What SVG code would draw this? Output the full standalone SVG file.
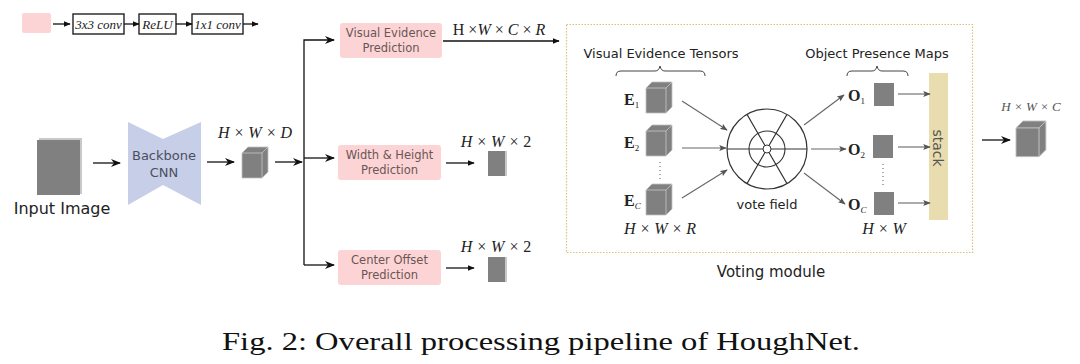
<svg xmlns="http://www.w3.org/2000/svg" width="1080" height="364" viewBox="0 0 1080 364">
<style>
.sans{font-family:"DejaVu Sans","Liberation Sans",sans-serif}
.math{font-family:"Liberation Serif","DejaVu Serif",serif;font-style:italic;fill:#222}
.bold{font-family:"Liberation Serif","DejaVu Serif",serif;font-weight:bold;fill:#222}
.pink{fill:#fdd4d5}
.ptxt{font-family:"DejaVu Sans","Liberation Sans",sans-serif;font-size:11.5px;fill:#6a5656;text-anchor:middle}
.blk{stroke:#111;stroke-width:1.3;fill:none}
.gry{stroke:#666;stroke-width:1.1;fill:none}
.lbox{fill:#fff;stroke:#222;stroke-width:1.4}
</style>
<defs>
<marker id="ah" viewBox="0 0 10 8" refX="9" refY="4" markerWidth="10" markerHeight="8" markerUnits="userSpaceOnUse" orient="auto"><path d="M0,0 L10,4 L0,8 L3,4 z" fill="#111"/></marker>
<marker id="ahs" viewBox="0 0 10 8" refX="9" refY="4" markerWidth="7" markerHeight="5.5" markerUnits="userSpaceOnUse" orient="auto"><path d="M0,0 L10,4 L0,8 z" fill="#111"/></marker>
<marker id="ahg" viewBox="0 0 10 8" refX="9" refY="4" markerWidth="8" markerHeight="6" markerUnits="userSpaceOnUse" orient="auto"><path d="M0,0 L10,4 L0,8 L2,4 z" fill="#555"/></marker>
<g id="cube"><path d="M0,6 L6,0 L26,0 L26,25 L20,31 L0,31 z" fill="#808080" stroke="#c0c0c0" stroke-width="0.8"/><path d="M0,6 L20,6 L20,31 M20,6 L26,0" fill="none" stroke="#c8c8c8" stroke-width="0.8"/></g>
</defs>
<rect width="1080" height="364" fill="#fff"/>

<g id="legend">
<rect x="22" y="13" width="29" height="20" rx="2" class="pink"/>
<rect x="73" y="14" width="51" height="20" class="lbox"/>
<text x="98.5" y="28.5" class="math" font-size="13" text-anchor="middle">3x3 conv</text>
<rect x="139" y="14" width="37" height="20" class="lbox"/>
<text x="157.5" y="28.5" class="math" font-size="13" text-anchor="middle">ReLU</text>
<rect x="192" y="14" width="51" height="20" class="lbox"/>
<text x="217.5" y="28.5" class="math" font-size="13" text-anchor="middle">1x1 conv</text>
</g>

<g id="input">
<rect x="39" y="138" width="43" height="56" fill="#c8c8c8"/>
<rect x="37" y="140" width="43" height="55" fill="#808080"/>
<text x="62" y="214" class="sans" font-size="16" text-anchor="middle" fill="#222">Input Image</text>
</g>

<g id="backbone">
<path d="M128,122 L163,139 L201,122 L201,205 L163,185 L128,205 z" fill="#c7cfe8"/>
<text x="164" y="160" class="sans" font-size="13" text-anchor="middle" fill="#4a4e60">Backbone</text>
<text x="164" y="177" class="sans" font-size="13" text-anchor="middle" fill="#4a4e60">CNN</text>
</g>

<g id="feature">
<use href="#cube" x="242" y="147"/>
<text x="255" y="138" class="math" font-size="16" text-anchor="middle">H × W × D</text>
</g>

<g id="vep">
<rect x="340" y="23" width="102" height="35" rx="3" class="pink"/>
<text x="391" y="37" class="ptxt">Visual Evidence</text>
<text x="391" y="52" class="ptxt">Prediction</text>
<text x="499" y="35" font-family="Liberation Serif,serif" font-size="16" text-anchor="middle" fill="#222">H <tspan font-style="normal">×</tspan><tspan font-style="italic">W</tspan> × <tspan font-style="italic">C</tspan> × <tspan font-style="italic">R</tspan></text>
</g>

<g id="whp">
<rect x="338" y="145" width="103" height="35" rx="3" class="pink"/>
<text x="389.5" y="159" class="ptxt">Width &amp; Height</text>
<text x="389.5" y="174" class="ptxt">Prediction</text>
<text x="496" y="147" class="math" font-size="16" text-anchor="middle">H × W × <tspan font-style="normal">2</tspan></text>
<rect x="489" y="151" width="18" height="25" fill="#c8c8c8"/>
<rect x="488" y="151" width="17" height="25" fill="#808080"/>
</g>

<g id="cop">
<rect x="338" y="250" width="103" height="35" rx="3" class="pink"/>
<text x="389.5" y="264" class="ptxt">Center Offset</text>
<text x="389.5" y="279" class="ptxt">Prediction</text>
<text x="496" y="252" class="math" font-size="16" text-anchor="middle">H × W × <tspan font-style="normal">2</tspan></text>
<rect x="489" y="257" width="18" height="25" fill="#c8c8c8"/>
<rect x="488" y="257" width="17" height="25" fill="#808080"/>
</g>

<g id="voting">
<rect x="566.5" y="24.5" width="406" height="228" fill="none" stroke="#d8c27a" stroke-width="1.2" stroke-dasharray="1.5,1.5"/>
<text x="771" y="277" class="sans" font-size="15" text-anchor="middle" fill="#222">Voting module</text>
</g>

<g id="vet">
<text x="661" y="58" class="sans" font-size="13" text-anchor="middle" fill="#222">Visual Evidence Tensors</text>
<path d="M616,76 Q616,71 621,71 L655,71 Q659,71 660,66 Q661,71 665,71 L700,71 Q705,71 705,76" fill="none" stroke="#444" stroke-width="1"/>
<text x="624" y="105" class="bold" font-size="16">E<tspan font-weight="normal" font-size="9" dy="3">1</tspan></text>
<use href="#cube" x="646" y="82"/>
<text x="624" y="148" class="bold" font-size="16">E<tspan font-weight="normal" font-size="9" dy="3">2</tspan></text>
<use href="#cube" x="646" y="125"/>
<path d="M660,162 L660,180" stroke="#555" stroke-width="1" stroke-dasharray="1,3"/>
<text x="624" y="206" class="bold" font-size="16">E<tspan font-weight="normal" font-style="italic" font-size="9" dy="3">C</tspan></text>
<use href="#cube" x="646" y="184"/>
<text x="660" y="234" class="math" font-size="16" text-anchor="middle">H × W × R</text>
</g>

<g id="votefield">
<circle cx="767" cy="149" r="40" fill="#fff" stroke="#333" stroke-width="1.2"/>
<circle cx="767" cy="149" r="18" fill="none" stroke="#333" stroke-width="1.1"/>
<path d="M727,149 L807,149 M747,114.4 L787,183.6 M787,114.4 L747,183.6" stroke="#333" stroke-width="1.1"/>
<circle cx="767" cy="149" r="4" fill="#fff" stroke="#333" stroke-width="1"/>
<text x="767" y="209" class="sans" font-size="13" text-anchor="middle" fill="#222">vote field</text>
</g>

<g id="opm">
<text x="877" y="58" class="sans" font-size="13" text-anchor="middle" fill="#222">Object Presence Maps</text>
<path d="M847,76 Q847,71 852,71 L872,71 Q876,71 877,66 Q878,71 882,71 L903,71 Q908,71 908,76" fill="none" stroke="#444" stroke-width="1"/>
<text x="848" y="101" class="bold" font-size="16">O<tspan font-weight="normal" font-size="9" dy="3">1</tspan></text>
<rect x="874" y="83" width="20" height="23" fill="#808080"/>
<text x="848" y="155" class="bold" font-size="16">O<tspan font-weight="normal" font-size="9" dy="3">2</tspan></text>
<rect x="873" y="135" width="20" height="23" fill="#808080"/>
<path d="M883,164 L883,185" stroke="#555" stroke-width="1" stroke-dasharray="1,3"/>
<text x="848" y="210" class="bold" font-size="16">O<tspan font-weight="normal" font-style="italic" font-size="9" dy="3">C</tspan></text>
<rect x="874" y="192" width="20" height="23" fill="#808080"/>
<text x="884" y="234" class="math" font-size="16" text-anchor="middle">H × W</text>
</g>

<g id="stack">
<rect x="929" y="73" width="19" height="147" fill="#e9dcae"/>
<text transform="translate(933,148) rotate(90)" class="sans" font-size="14" text-anchor="middle" fill="#555">stack</text>
</g>

<g id="output">
<use href="#cube" transform="translate(1016,121) scale(1.15)"/>
<text x="1031" y="111" font-family="Liberation Serif,serif" font-style="italic" font-size="13" text-anchor="middle" fill="#555">H × W × C</text>
</g>

<g id="connectors">
<path d="M53,24 L70,24" class="blk" stroke-width="1" marker-end="url(#ahs)"/>
<path d="M124,24 L139,24" class="blk" stroke-width="1" marker-end="url(#ahs)"/>
<path d="M176,24 L192,24" class="blk" stroke-width="1" marker-end="url(#ahs)"/>
<path d="M243,24 L258,24" class="blk" stroke-width="1" marker-end="url(#ahs)"/>
<path d="M93,163 L120,163" class="blk" marker-end="url(#ah)"/>
<path d="M207,162 L234,162" class="blk" marker-end="url(#ah)"/>
<path d="M275,162 L302,162" class="blk" marker-end="url(#ah)"/>
<path d="M304,265 L304,40 L334,40" class="blk" marker-end="url(#ah)"/>
<path d="M304,158 L334,158" class="blk" marker-end="url(#ah)"/>
<path d="M304,265 L334,265" class="blk" marker-end="url(#ah)"/>
<path d="M443,41 L559,41" class="blk" stroke-width="1.1" marker-end="url(#ahs)"/>
<path d="M446,163 L474,163" class="blk" stroke-width="1.1" marker-end="url(#ahs)"/>
<path d="M446,268 L474,268" class="blk" stroke-width="1.1" marker-end="url(#ahs)"/>
<path d="M682,101 L727,130" class="gry" marker-end="url(#ahg)"/>
<path d="M682,148 L726,148" class="gry" marker-end="url(#ahg)"/>
<path d="M682,198 L727,170" class="gry" marker-end="url(#ahg)"/>
<path d="M804,125 L844,95" class="gry" marker-end="url(#ahg)"/>
<path d="M811,149 L846,149" class="gry" marker-end="url(#ahg)"/>
<path d="M804,173 L845,204" class="gry" marker-end="url(#ahg)"/>
<path d="M898,94 L930,94" class="gry" marker-end="url(#ahg)"/>
<path d="M898,147 L930,147" class="gry" marker-end="url(#ahg)"/>
<path d="M898,203 L930,203" class="gry" marker-end="url(#ahg)"/>
<path d="M982,140 L1010,140" class="blk" marker-end="url(#ah)"/>
</g>

<text x="222" y="350" font-family="Liberation Serif,'DejaVu Serif',serif" font-size="26" fill="#111" textLength="638" lengthAdjust="spacingAndGlyphs">Fig. 2: Overall processing pipeline of HoughNet.</text>
</svg>
